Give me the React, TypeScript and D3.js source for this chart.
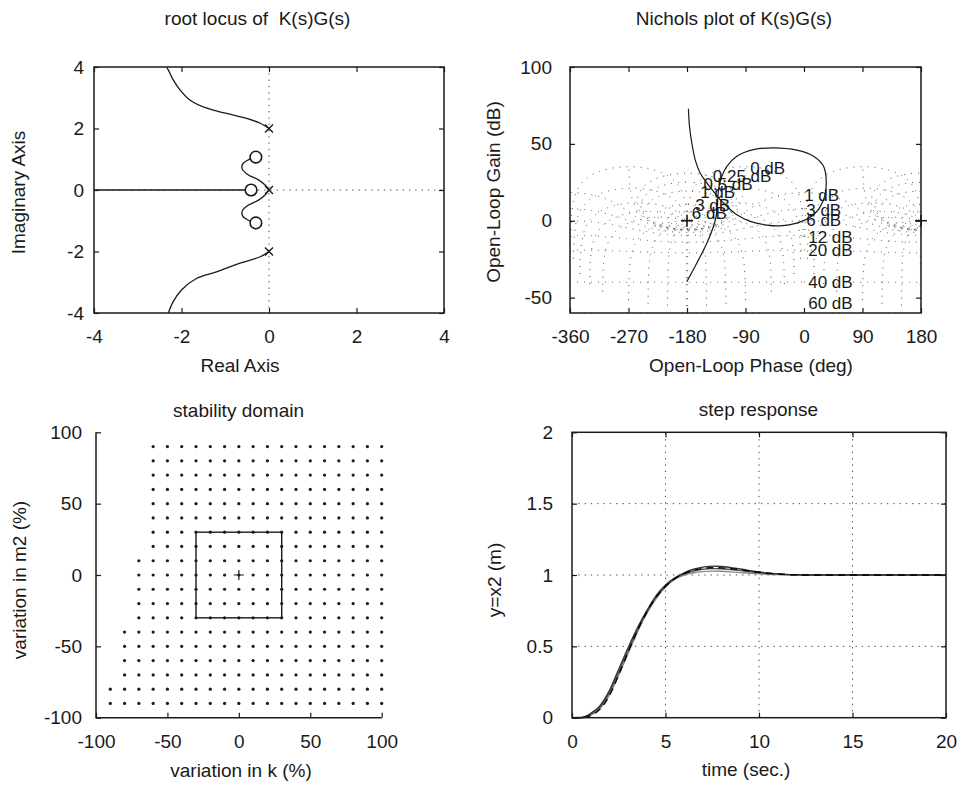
import React, { useEffect, useRef } from "react";
import * as d3 from "d3";

const FONT = "'Liberation Sans', Arial, Helvetica, sans-serif";
const INK = "#1a1a1a";

// ---------- root locus of K(s)G(s)
const rlTicks = [-4, -2, 0, 2, 4];
const poleRe = [0, 0, 0];
const poleIm = [2, 0, -2];
const zeroRe = [-0.3, -0.41, -0.3];
const zeroIm = [1.07, 0, -1.07];
const upBranchRe = [0, -0.2, -0.51, -0.97, -1.42, -1.81, -2.03, -2.19, -2.3, -2.34];
const upBranchIm = [2, 2.17, 2.33, 2.49, 2.66, 2.93, 3.25, 3.58, 3.9, 4.0];
const lowBranchRe = [0, -0.2, -0.66, -1.2, -1.65, -2.0, -2.19, -2.3];
const lowBranchIm = [-2, -2.17, -2.38, -2.66, -2.87, -3.25, -3.63, -4.0];
const upLoopRe = [0, -0.09, -0.24, -0.47, -0.6, -0.62, -0.59, -0.51, -0.4, -0.3];
const upLoopIm = [0, 0.16, 0.33, 0.49, 0.65, 0.76, 0.87, 0.95, 1.03, 1.07];
const lowLoopRe = [0, -0.09, -0.24, -0.47, -0.6, -0.62, -0.59, -0.51, -0.4, -0.3];
const lowLoopIm = [0, -0.16, -0.33, -0.49, -0.65, -0.76, -0.87, -0.95, -1.03, -1.07];
const realAxisRe = [-4, -0.41];
const realAxisIm = [0, 0];

// ---------- Nichols plot
const phaseTicks = [-360, -270, -180, -90, 0, 90, 180];
const gainTicks = [-50, 0, 50, 100];
const nicPhase = [-177.8, -176.2, -172.6, -167.5, -159.8, -149.5, -139.3, -129.0, -118.7, -103.3, -82.8, -57.1, -36.6, -11, 14.7, 30.1, 34.2, 30.1, 14.7, -11, -46.8, -77.7, -103.3, -118.7, -126.4, -131.5, -133.1, -135.2, -139.3, -149.5, -165, -180.3];
const nicGain = [72.8, 61.5, 50.7, 39.8, 31.1, 24.6, 19.1, 13.7, 9.3, 3.9, -0.4, -2.8, -3.3, -1.5, 3.9, 13.7, 24.6, 35.4, 42, 45.9, 47.4, 46.3, 42, 35.4, 28.9, 20.2, 11.5, 2.8, -3.7, -14.6, -27.6, -39.6];
const isoGainDb = [6, 3, 1, 0.5, 0.25, 0, -1, -3, -6, -12, -20, -40, -60];
const isoPhaseDeg = [1, 5, 15, 30, 50, 90, 120, 150, 179];
const chartLabels = ["0 dB", "0.25 dB", "0.5 dB", "1 dB", "3 dB", "6 dB", "1 dB", "3 dB", "6 dB", "12 dB", "20 dB", "40 dB", "60 dB"];
const labelPhase = [-82.8, -140.3, -154.7, -159.8, -167.5, -172.6, 0.3, 3.4, 3.4, 6.5, 6.5, 6.5, 6.5];
const labelGain = [34.2, 29.2, 23.8, 19, 10.4, 5.4, 16.9, 7.1, 0.6, -10.2, -18.8, -40, -53.4];
const critPhase = [-180, 180];

// ---------- stability domain
const stabTicks = [-100, -50, 0, 50, 100];
const stabM2 = [90, 80, 70, 60, 50, 40, 30, 20, 10, 0, -10, -20, -30, -40, -50, -60, -70, -80, -90];
const stabKMin = [-60, -60, -60, -60, -60, -60, -60, -60, -70, -70, -70, -70, -70, -80, -80, -80, -80, -90, -90];
const stabKMax = 100;
const boxK = [-30, 30];
const boxM2 = [-30, 30];

// ---------- step response
const timeTicks = [0, 5, 10, 15, 20];
const yTicks = [0, 0.5, 1, 1.5, 2];
const stepT = [0, 0.5, 1, 1.5, 2, 2.5, 3, 3.5, 4, 4.5, 5, 5.5, 6, 6.5, 7, 7.5, 8, 8.5, 9, 9.5, 10, 11, 12, 13, 14, 15, 16, 17, 18, 19, 20];
const stepA = [0, 0.001, 0.03, 0.085, 0.19, 0.34, 0.49, 0.63, 0.75, 0.855, 0.93, 0.98, 1.015, 1.04, 1.055, 1.062, 1.06, 1.052, 1.042, 1.031, 1.021, 1.008, 1.002, 1, 1, 1, 1, 1, 1, 1, 1];
const stepB = [0, 0, 0.025, 0.075, 0.175, 0.32, 0.47, 0.615, 0.74, 0.845, 0.92, 0.975, 1.008, 1.028, 1.04, 1.045, 1.044, 1.038, 1.031, 1.023, 1.016, 1.006, 1.001, 1, 1, 1, 1, 1, 1, 1, 1];
const stepC = [0, 0, 0.018, 0.065, 0.16, 0.3, 0.45, 0.6, 0.73, 0.835, 0.915, 0.97, 1.0, 1.016, 1.024, 1.027, 1.026, 1.022, 1.017, 1.012, 1.008, 1.003, 1.0, 1, 1, 1, 1, 1, 1, 1, 1];
const stepD = [0, 0, 0.015, 0.06, 0.155, 0.3, 0.46, 0.61, 0.74, 0.845, 0.92, 0.975, 1.01, 1.032, 1.046, 1.051, 1.05, 1.044, 1.036, 1.027, 1.019, 1.007, 1.001, 1, 1, 1, 1, 1, 1, 1, 1];

type Sel = d3.Selection<SVGGElement, unknown, null, undefined>;

function label(g: Sel, txt: string, x: number, y: number, rotate = false) {
    g.append("text")
        .attr("transform", rotate ? "translate(" + x + "," + y + ") rotate(-90)" : "translate(" + x + "," + y + ")")
        .attr("text-anchor", "middle")
        .attr("font-family", FONT)
        .attr("font-size", 19)
        .attr("fill", INK)
        .text(txt);
}

function axes(g: Sel, x: any, y: any, xt: number[], yt: number[], xPad: number, yPad: number, box: boolean, fmt: (d: any) => string) {
    const [x0, x1] = x.range();
    const [y0, y1] = y.range();
    const bottom = g.append("g").attr("transform", "translate(0," + y0 + ")")
        .call(d3.axisBottom(x).tickValues(xt).tickSizeInner(-5).tickSizeOuter(0).tickPadding(xPad).tickFormat(fmt));
    const left = g.append("g").attr("transform", "translate(" + x0 + ",0)")
        .call(d3.axisLeft(y).tickValues(yt).tickSizeInner(-5).tickSizeOuter(0).tickPadding(yPad).tickFormat(fmt));
    const all = [bottom, left];
    if (box) {
        all.push(g.append("g").attr("transform", "translate(0," + y1 + ")")
            .call(d3.axisTop(x).tickValues(xt).tickSizeInner(-5).tickSizeOuter(0).tickFormat(() => "")));
        all.push(g.append("g").attr("transform", "translate(" + x1 + ",0)")
            .call(d3.axisRight(y).tickValues(yt).tickSizeInner(-5).tickSizeOuter(0).tickFormat(() => "")));
    }
    all.forEach(a => {
        a.select(".domain").remove();
        a.attr("font-family", FONT).attr("font-size", 19);
        a.selectAll("line").attr("stroke", INK).attr("stroke-width", 1.2);
        a.selectAll("text").attr("fill", INK);
    });
    if (box) {
        g.append("rect").attr("x", x0).attr("y", y1).attr("width", x1 - x0).attr("height", y0 - y1)
            .attr("fill", "none").attr("stroke", INK).attr("stroke-width", 1.5);
    } else {
        g.append("path").attr("d", "M" + x0 + "," + y1 + "V" + y0 + "H" + x1)
            .attr("fill", "none").attr("stroke", INK).attr("stroke-width", 1.5);
    }
}

function drawRootLocus(svg: Sel) {
    const g = svg.append("g");
    const x = d3.scaleLinear().domain([-4, 4]).range([94, 444]);
    const y = d3.scaleLinear().domain([-4, 4]).range([313, 67]);
    const line = d3.line<[number, number]>().x(d => x(d[0])).y(d => y(d[1])).curve(d3.curveCatmullRom);
    const zip = (a: number[], b: number[]) => a.map((v, i) => [v, b[i]] as [number, number]);

    g.append("line").attr("x1", x(0)).attr("x2", x(0)).attr("y1", y(4)).attr("y2", y(-4))
        .attr("stroke", "#444").attr("stroke-dasharray", "1.3 5");
    g.append("line").attr("x1", x(-4)).attr("x2", x(4)).attr("y1", y(0)).attr("y2", y(0))
        .attr("stroke", "#444").attr("stroke-dasharray", "1.3 5");

    const branches = [zip(upBranchRe, upBranchIm), zip(lowBranchRe, lowBranchIm), zip(upLoopRe, upLoopIm), zip(lowLoopRe, lowLoopIm), zip(realAxisRe, realAxisIm)];
    g.selectAll(".br").data(branches).enter().append("path")
        .attr("d", d => line(d))
        .attr("fill", "none").attr("stroke", INK).attr("stroke-width", 1.3);

    zeroRe.forEach((re, i) => {
        g.append("circle").attr("cx", x(re)).attr("cy", y(zeroIm[i])).attr("r", 5.8)
            .attr("fill", "white").attr("stroke", INK).attr("stroke-width", 1.6);
    });
    poleRe.forEach((re, i) => {
        const cx = x(re), cy = y(poleIm[i]), s = 4;
        g.append("path").attr("d", `M${cx - s},${cy - s}L${cx + s},${cy + s}M${cx - s},${cy + s}L${cx + s},${cy - s}`)
            .attr("stroke", INK).attr("stroke-width", 1.4);
    });

    axes(g, x, y, rlTicks, rlTicks, 17, 10, true, d => String(d));
    label(g, "root locus of\u00A0 K(s)G(s)", 257.5, 25);
    label(g, "Real Axis", 240, 371.5);
    label(g, "Imaginary Axis", 25, 192.5, true);
}

function unwrap(ph: number[]) {
    const out = [ph[0]];
    for (let i = 1; i < ph.length; i++) {
        let d = ph[i] - ph[i - 1];
        while (d > 180) d -= 360;
        while (d < -180) d += 360;
        out.push(out[i - 1] + d);
    }
    return out;
}

function drawNichols(svg: Sel) {
    const g = svg.append("g");
    const x = d3.scaleLinear().domain([-360, 180]).range([570, 921]);
    const y = d3.scaleLinear().domain([-60, 100]).range([313, 67]);

    svg.append("clipPath").attr("id", "nclip").append("rect")
        .attr("x", 570).attr("y", y(36)).attr("width", 351).attr("height", 313 - y(36));
    const grid = g.append("g").attr("clip-path", "url(#nclip)");
    const line = d3.line<[number, number]>().x(d => x(d[0])).y(d => y(Math.max(-90, Math.min(130, d[1]))));
    const curves: [number, number][][] = [];

    // isogain contours: |L/(1+L)| = M
    isoGainDb.forEach(db => {
        const m = Math.pow(10, db / 20);
        const n = 4000;
        const ph: number[] = [], gn: number[] = [];
        for (let i = 1; i < n; i++) {
            const a = (2 * Math.PI * i) / n;
            const tr = m * Math.cos(a), ti = m * Math.sin(a);
            const den = (1 - tr) * (1 - tr) + ti * ti;
            const lr = (tr - tr * tr - ti * ti) / den, li = ti / den;
            ph.push((Math.atan2(li, lr) * 180) / Math.PI);
            gn.push(10 * Math.log10(lr * lr + li * li));
        }
        const uw = unwrap(ph);
        [-720, -360, 0, 360, 720].forEach(k => curves.push(uw.map((p, i) => [p + k, gn[i]] as [number, number])));
    });
    // isophase contours: arg L/(1+L) = -psi
    isoPhaseDeg.forEach(psi => {
        const s = Math.sin((psi * Math.PI) / 180);
        const a: [number, number][] = [];
        for (let i = 1; i < 600; i++) {
            const beta = psi + ((180 - psi) * i) / 600;
            const gdb = 20 * Math.log10(Math.sin(((beta - psi) * Math.PI) / 180) / s);
            a.push([-beta, gdb]);
        }
        const b = a.map(d => [-360 - d[0], d[1]] as [number, number]);
        [-360, 0, 360].forEach(k => {
            curves.push(a.map(d => [d[0] + k, d[1]] as [number, number]));
            curves.push(b.map(d => [d[0] + k, d[1]] as [number, number]));
        });
    });
    grid.selectAll("path").data(curves).enter().append("path")
        .attr("d", d => line(d))
        .attr("fill", "none").attr("stroke", "#4a4a4a").attr("stroke-width", 1)
        .attr("stroke-dasharray", "1 6");

    chartLabels.forEach((t, i) => {
        g.append("text").attr("x", x(labelPhase[i])).attr("y", y(labelGain[i])).attr("dy", "0.36em")
            .attr("font-family", FONT).attr("font-size", 17).attr("fill", INK).text(t);
    });

    const pts = nicPhase.map((p, i) => [p, nicGain[i]] as [number, number]);
    g.append("path").attr("d", d3.line<[number, number]>().x(d => x(d[0])).y(d => y(d[1])).curve(d3.curveCatmullRom)(pts))
        .attr("fill", "none").attr("stroke", INK).attr("stroke-width", 1.2);

    critPhase.forEach(p => {
        const cx = x(p), cy = y(0), s = 6;
        g.append("path").attr("d", `M${cx - s},${cy}H${cx + s}M${cx},${cy - s}V${cy + s}`)
            .attr("stroke", INK).attr("stroke-width", 1.6);
    });

    axes(g, x, y, phaseTicks, gainTicks, 17, 18, true, d => String(d));
    label(g, "Nichols plot of K(s)G(s)", 734, 24.5);
    label(g, "Open-Loop Phase (deg)", 751, 371.5);
    label(g, "Open-Loop Gain (dB)", 500, 192, true);
}

function drawStability(svg: Sel) {
    const g = svg.append("g");
    const x = d3.scaleLinear().domain([-100, 100]).range([96, 381.7]);
    const y = d3.scaleLinear().domain([-100, 100]).range([717.7, 432.3]);

    const dots: [number, number][] = [];
    stabM2.forEach((m2, i) => {
        d3.range(stabKMin[i], stabKMax + 1, 10).forEach(k => dots.push([k, m2]));
    });
    g.selectAll(".dot").data(dots).enter().append("circle")
        .attr("cx", d => x(d[0])).attr("cy", d => y(d[1])).attr("r", 1.6).attr("fill", INK);

    g.append("rect").attr("x", x(boxK[0])).attr("y", y(boxM2[1]))
        .attr("width", x(boxK[1]) - x(boxK[0])).attr("height", y(boxM2[0]) - y(boxM2[1]))
        .attr("fill", "none").attr("stroke", INK).attr("stroke-width", 1.4);
    const cx = x(0), cy = y(0), s = 5;
    g.append("path").attr("d", `M${cx - s},${cy}H${cx + s}M${cx},${cy - s}V${cy + s}`)
        .attr("stroke", INK).attr("stroke-width", 1.2);

    axes(g, x, y, stabTicks, stabTicks, 17, 14, false, d => String(d));
    label(g, "stability domain", 238.5, 416.5);
    label(g, "variation in k (%)", 241, 776.5);
    label(g, "variation in m2 (%)", 25.5, 580, true);
}

function drawStep(svg: Sel) {
    const g = svg.append("g");
    const x = d3.scaleLinear().domain([0, 20]).range([572, 946]);
    const y = d3.scaleLinear().domain([0, 2]).range([717.7, 432.3]);

    timeTicks.slice(1, -1).forEach(t => {
        g.append("line").attr("x1", x(t)).attr("x2", x(t)).attr("y1", y(0)).attr("y2", y(2))
            .attr("stroke", "#444").attr("stroke-dasharray", "1.3 5");
    });
    yTicks.slice(1, -1).forEach(v => {
        g.append("line").attr("x1", x(0)).attr("x2", x(20)).attr("y1", y(v)).attr("y2", y(v))
            .attr("stroke", "#444").attr("stroke-dasharray", "1.3 5");
    });

    const line = d3.line<number>().x((_, i) => x(stepT[i])).y(d => y(d)).curve(d3.curveMonotoneX);
    const series = [
        { v: stepC, stroke: "#8a8a8a", dash: null },
        { v: stepB, stroke: "#555", dash: null },
        { v: stepA, stroke: "#333", dash: null },
        { v: stepD, stroke: "#000", dash: "7 5" },
    ];
    series.forEach(s => {
        g.append("path").attr("d", line(s.v)).attr("fill", "none").attr("stroke", s.stroke)
            .attr("stroke-width", 1.4).attr("stroke-dasharray", s.dash);
    });

    axes(g, x, y, timeTicks, yTicks, 17, 19, true, d => String(d));
    label(g, "step response", 758.5, 416);
    label(g, "time (sec.)", 746, 776);
    label(g, "y=x2 (m)", 501, 580, true);
}

export default function App() {
    const ref = useRef<SVGSVGElement>(null);
    useEffect(() => {
        const svg = d3.select(ref.current as SVGSVGElement);
        svg.selectAll("*").remove();
        const root = svg.append("g") as unknown as Sel;
        drawRootLocus(root);
        drawNichols(root);
        drawStability(root);
        drawStep(root);
    }, []);
    return (
        <div style={{ position: "absolute", left: 0, top: 0 }}>
            <svg ref={ref} width={962} height={785} style={{ display: "block", background: "white" }} />
        </div>
    );
}
